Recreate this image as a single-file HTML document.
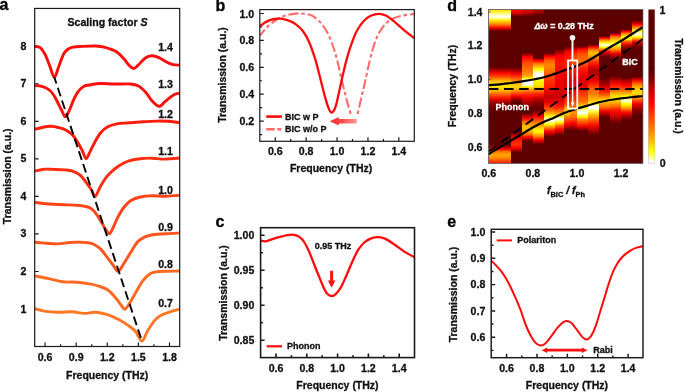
<!DOCTYPE html><html><head><meta charset="utf-8"><title>Figure</title><style>html,body{margin:0;padding:0;background:#fff}svg{display:block}text{font-family:'Liberation Sans', sans-serif}</style></head><body>
<svg width="685" height="392" viewBox="0 0 685 392">
<rect width="685" height="392" fill="#fff"/>
<g>
<path d="M45.07,346.50v-4.00M76.18,346.50v-4.00M107.29,346.50v-4.00M138.40,346.50v-4.00M169.51,346.50v-4.00M60.62,346.50v-2.30M91.74,346.50v-2.30M122.85,346.50v-2.30M153.95,346.50v-2.30M34.70,309.01h4.00M34.70,271.48h4.00M34.70,233.95h4.00M34.70,196.42h4.00M34.70,158.89h4.00M34.70,121.36h4.00M34.70,83.83h4.00M34.70,46.30h4.00" fill="none" stroke="#1a1a1a" stroke-width="1.20"/>
<clipPath id="ca"><rect x="34.70" y="8.45" width="145.00" height="338.05"/></clipPath>
<g clip-path="url(#ca)" fill="none" stroke-linejoin="round" stroke-linecap="round">
<path d="M34.7,308.7C36.3,309.1 40.2,310.5 44.1,311.1C48.0,311.7 53.5,312.2 58.2,312.3C62.9,312.4 67.9,311.6 72.2,311.8C76.5,312.0 80.1,313.3 84.0,313.4C87.9,313.5 91.8,312.1 95.7,312.3C99.6,312.5 103.5,313.4 107.4,314.6C111.3,315.9 115.6,318.0 119.1,319.8C122.6,321.6 125.8,323.7 128.5,325.6C131.2,327.6 133.4,328.9 135.6,331.5C137.8,334.1 139.9,341.1 141.9,341.1C143.9,341.1 145.2,334.9 147.3,331.5C149.4,328.1 152.0,323.6 154.3,320.9C156.7,318.2 158.7,316.7 161.4,315.1C164.2,313.6 167.7,312.6 170.8,311.6C173.9,310.6 178.5,309.6 180.0,309.2" stroke="#ff7624" stroke-width="2.9"/>
<path d="M34.7,275.9C37.1,276.4 44.1,277.7 48.8,278.7C53.5,279.7 58.1,281.2 62.8,281.8C67.5,282.4 72.2,281.8 76.9,282.2C81.6,282.6 87.2,283.4 91.0,284.1C94.8,284.8 97.5,285.7 100.0,286.5C102.5,287.3 104.3,288.0 106.0,288.9C107.7,289.8 108.7,290.4 110.0,291.6C111.3,292.8 112.8,294.6 114.0,296.0C115.2,297.4 116.3,298.6 117.5,300.2C118.7,301.8 120.1,303.8 121.3,305.3C122.5,306.8 123.5,309.3 124.7,309.2C126.0,309.1 127.0,307.2 128.8,304.5C130.6,301.8 133.3,296.7 135.6,292.8C137.9,288.9 140.2,284.2 142.6,281.1C144.9,278.0 147.3,275.6 149.7,274.0C152.0,272.4 153.6,272.2 156.7,271.7C159.8,271.2 164.5,271.3 168.4,271.2C172.3,271.1 178.1,271.0 180.0,271.0" stroke="#ff6a22" stroke-width="2.9"/>
<path d="M34.7,242.3C36.7,242.5 42.5,242.9 46.4,243.2C50.3,243.5 54.3,244.0 58.2,243.9C62.1,243.8 66.0,242.8 69.9,242.5C73.8,242.2 78.6,242.1 81.6,242.2C84.6,242.2 86.0,242.5 88.0,242.8C90.0,243.1 91.4,243.2 93.5,244.2C95.6,245.2 98.2,246.6 100.5,248.9C102.8,251.2 105.5,255.2 107.6,257.9C109.7,260.6 111.2,262.8 113.0,265.0C114.8,267.2 116.3,271.6 118.1,271.3C119.9,271.1 121.7,266.7 123.8,263.5C125.9,260.3 128.6,255.8 130.9,252.1C133.2,248.4 135.6,244.1 137.9,241.6C140.2,239.1 142.3,238.1 145.0,236.9C147.7,235.7 150.8,235.0 154.3,234.5C157.8,234.0 161.7,234.1 166.0,233.8C170.3,233.5 177.7,233.1 180.0,232.9" stroke="#ff551c" stroke-width="2.9"/>
<path d="M34.7,202.4C37.1,202.7 44.1,203.6 48.8,204.0C53.5,204.4 58.1,204.5 62.8,204.7C67.5,204.9 73.4,204.9 76.9,205.2C80.4,205.4 82.0,205.8 84.0,206.2C86.0,206.6 87.4,206.7 89.0,207.4C90.6,208.1 92.2,209.2 93.5,210.5C94.8,211.8 95.8,213.3 97.0,215.0C98.2,216.7 99.2,218.4 100.5,220.6C101.8,222.8 103.5,226.1 105.0,228.3C106.5,230.5 107.9,233.7 109.2,233.8C110.5,233.9 111.1,231.5 112.6,228.7C114.1,225.9 116.1,220.4 118.0,216.9C119.9,213.4 121.6,210.2 123.8,207.5C126.0,204.8 128.2,202.2 130.9,200.5C133.7,198.8 136.8,197.8 140.3,197.0C143.8,196.2 147.7,195.9 152.0,195.8C156.3,195.7 161.3,196.4 166.0,196.3C170.7,196.2 177.7,195.5 180.0,195.3" stroke="#ff4417" stroke-width="2.9"/>
<path d="M34.7,171.1C36.3,170.8 41.0,169.5 44.1,169.2C47.2,168.9 50.0,169.3 53.5,169.4C57.0,169.5 62.0,169.6 65.2,169.9C68.4,170.2 70.1,170.2 72.6,171.1C75.1,172.0 77.7,173.1 80.1,175.2C82.5,177.3 85.1,181.1 87.0,183.6C88.9,186.1 90.1,187.9 91.5,190.0C92.9,192.1 93.8,196.9 95.3,196.3C96.8,195.7 98.4,189.8 100.4,186.4C102.4,183.0 105.2,178.6 107.4,175.9C109.6,173.2 111.3,171.9 113.3,170.2C115.2,168.5 116.6,167.2 119.1,165.7C121.6,164.2 125.0,162.2 128.5,161.0C132.0,159.8 136.4,159.2 140.3,158.7C144.2,158.2 148.5,158.1 152.0,158.2C155.5,158.3 158.3,159.0 161.4,159.1C164.5,159.2 167.7,158.9 170.8,158.7C173.9,158.5 178.5,158.1 180.0,158.0" stroke="#ff2d10" stroke-width="2.9"/>
<path d="M34.7,129.3C36.3,128.9 41.4,127.5 44.1,127.0C46.8,126.5 48.8,126.2 51.1,126.3C53.5,126.4 55.9,126.9 58.2,127.5C60.6,128.1 62.9,128.6 65.2,129.8C67.5,131.0 70.2,132.7 72.2,134.6C74.2,136.5 75.6,138.9 77.2,141.5C78.8,144.1 80.5,147.2 82.0,150.0C83.5,152.8 84.8,158.2 86.1,158.5C87.4,158.8 88.6,154.3 90.1,151.6C91.5,148.9 93.0,145.3 94.8,142.2C96.5,139.1 98.5,135.3 100.6,132.8C102.7,130.3 104.7,128.5 107.4,127.0C110.1,125.5 113.3,124.6 116.8,123.9C120.3,123.2 124.2,123.2 128.5,122.8C132.8,122.4 137.9,122.1 142.6,121.8C147.3,121.5 152.4,121.2 156.7,121.1C161.0,121.0 164.5,121.0 168.4,121.3C172.3,121.6 178.1,122.5 180.0,122.8" stroke="#ff1c0c" stroke-width="2.9"/>
<path d="M34.7,85.6C35.9,85.7 39.4,85.7 41.7,86.4C44.1,87.1 46.9,88.3 48.8,89.6C50.7,90.9 51.6,92.1 53.0,94.0C54.4,95.9 55.5,98.2 57.0,101.0C58.5,103.8 60.3,107.9 61.7,110.5C63.1,113.1 64.1,116.7 65.3,116.8C66.5,116.9 67.7,113.8 69.1,110.9C70.5,108.0 72.3,102.5 73.9,99.2C75.5,95.9 76.8,93.4 78.5,91.2C80.2,89.0 81.9,87.4 84.0,86.3C86.1,85.2 88.3,85.2 91.0,84.7C93.7,84.2 96.5,83.6 100.4,83.5C104.3,83.4 109.4,83.9 114.5,84.0C119.6,84.1 126.9,83.7 130.9,84.0C134.9,84.3 136.0,84.7 138.5,86.1C141.0,87.5 143.3,89.6 145.7,92.2C148.0,94.8 150.3,99.2 152.6,101.6C154.9,104.0 157.2,106.4 159.3,106.4C161.4,106.4 163.1,103.2 165.0,101.6C166.9,100.0 169.1,98.2 170.8,96.9C172.6,95.6 174.0,94.6 175.5,94.0C177.0,93.4 179.2,93.4 180.0,93.3" stroke="#ff0f0a" stroke-width="2.9"/>
<path d="M34.7,46.4C35.6,46.6 38.5,46.2 40.3,47.6C42.0,49.0 43.6,51.5 45.2,54.6C46.8,57.7 48.4,62.6 49.9,66.4C51.4,70.2 52.8,77.4 54.4,77.2C56.0,77.0 57.6,69.2 59.2,65.2C60.8,61.2 62.3,56.2 63.9,53.5C65.5,50.8 67.0,49.9 68.6,48.8C70.1,47.7 71.0,47.5 73.2,47.1C75.4,46.7 77.8,46.6 81.6,46.4C85.3,46.2 91.8,45.8 95.7,46.0C99.6,46.2 101.6,46.4 105.1,47.4C108.6,48.4 113.6,50.1 116.8,52.1C120.0,54.1 122.3,57.1 124.3,59.3C126.3,61.5 127.4,63.7 129.0,65.2C130.6,66.7 132.2,68.5 133.7,68.5C135.2,68.5 136.3,66.9 138.2,65.2C140.1,63.5 142.7,59.8 145.0,58.2C147.3,56.6 149.7,55.9 152.0,55.8C154.3,55.7 156.7,56.7 159.0,57.7C161.3,58.7 163.7,60.5 166.0,61.7C168.3,62.9 170.8,64.1 173.1,64.7C175.4,65.3 178.8,65.1 180.0,65.2" stroke="#ff0d0d" stroke-width="2.9"/>
<path d="M54.2,77L141.9,341" stroke="#000" stroke-width="1.9" stroke-dasharray="9 4.4" stroke-dashoffset="2.1" stroke-linecap="butt"/>
</g>
<rect x="34.70" y="8.45" width="145.00" height="338.05" fill="none" stroke="#1a1a1a" stroke-width="1.20"/>
<text x="45.07" y="361.20" font-size="10.60" text-anchor="middle" fill="#111" stroke="#111" stroke-width="0.30" font-weight="bold" >0.6</text>
<text x="76.18" y="361.20" font-size="10.60" text-anchor="middle" fill="#111" stroke="#111" stroke-width="0.30" font-weight="bold" >0.9</text>
<text x="107.29" y="361.20" font-size="10.60" text-anchor="middle" fill="#111" stroke="#111" stroke-width="0.30" font-weight="bold" >1.2</text>
<text x="138.40" y="361.20" font-size="10.60" text-anchor="middle" fill="#111" stroke="#111" stroke-width="0.30" font-weight="bold" >1.5</text>
<text x="169.51" y="361.20" font-size="10.60" text-anchor="middle" fill="#111" stroke="#111" stroke-width="0.30" font-weight="bold" >1.8</text>
<text x="26.40" y="312.51" font-size="10.60" text-anchor="end" fill="#111" stroke="#111" stroke-width="0.30" font-weight="bold" >1</text>
<text x="26.40" y="274.98" font-size="10.60" text-anchor="end" fill="#111" stroke="#111" stroke-width="0.30" font-weight="bold" >2</text>
<text x="26.40" y="237.45" font-size="10.60" text-anchor="end" fill="#111" stroke="#111" stroke-width="0.30" font-weight="bold" >3</text>
<text x="26.40" y="199.92" font-size="10.60" text-anchor="end" fill="#111" stroke="#111" stroke-width="0.30" font-weight="bold" >4</text>
<text x="26.40" y="162.39" font-size="10.60" text-anchor="end" fill="#111" stroke="#111" stroke-width="0.30" font-weight="bold" >5</text>
<text x="26.40" y="124.86" font-size="10.60" text-anchor="end" fill="#111" stroke="#111" stroke-width="0.30" font-weight="bold" >6</text>
<text x="26.40" y="87.33" font-size="10.60" text-anchor="end" fill="#111" stroke="#111" stroke-width="0.30" font-weight="bold" >7</text>
<text x="26.40" y="49.80" font-size="10.60" text-anchor="end" fill="#111" stroke="#111" stroke-width="0.30" font-weight="bold" >8</text>
<text x="107.20" y="378.60" font-size="10.50" text-anchor="middle" fill="#111" stroke="#111" stroke-width="0.30" font-weight="bold" >Frequency (THz)</text>
<text transform="translate(10.80,176.30) rotate(-90)" font-size="10.50" text-anchor="middle" fill="#111" stroke="#111" stroke-width="0.30" font-weight="bold">Transmission (a.u.)</text>
<text x="107.50" y="25.50" font-size="10.60" text-anchor="middle" fill="#111" stroke="#111" stroke-width="0.30" font-weight="bold" >Scaling factor <tspan font-style="italic">S</tspan></text>
<text x="165.50" y="50.50" font-size="10.60" text-anchor="middle" fill="#111" stroke="#111" stroke-width="0.30" font-weight="bold" >1.4</text>
<text x="165.50" y="87.50" font-size="10.60" text-anchor="middle" fill="#111" stroke="#111" stroke-width="0.30" font-weight="bold" >1.3</text>
<text x="165.50" y="117.50" font-size="10.60" text-anchor="middle" fill="#111" stroke="#111" stroke-width="0.30" font-weight="bold" >1.2</text>
<text x="165.50" y="154.50" font-size="10.60" text-anchor="middle" fill="#111" stroke="#111" stroke-width="0.30" font-weight="bold" >1.1</text>
<text x="165.50" y="194.00" font-size="10.60" text-anchor="middle" fill="#111" stroke="#111" stroke-width="0.30" font-weight="bold" >1.0</text>
<text x="165.50" y="230.50" font-size="10.60" text-anchor="middle" fill="#111" stroke="#111" stroke-width="0.30" font-weight="bold" >0.9</text>
<text x="165.50" y="268.40" font-size="10.60" text-anchor="middle" fill="#111" stroke="#111" stroke-width="0.30" font-weight="bold" >0.8</text>
<text x="165.50" y="307.00" font-size="10.60" text-anchor="middle" fill="#111" stroke="#111" stroke-width="0.30" font-weight="bold" >0.7</text>
<text x="-0.60" y="10.10" font-size="16.00" text-anchor="start" fill="#000" stroke="#000" stroke-width="0.30" font-weight="bold" >a</text>
</g>
<g>
<path d="M275.25,141.30v-4.00M306.15,141.30v-4.00M337.05,141.30v-4.00M367.95,141.30v-4.00M398.85,141.30v-4.00M290.70,141.30v-2.30M321.60,141.30v-2.30M352.50,141.30v-2.30M383.40,141.30v-2.30M259.80,121.10h4.00M259.80,94.20h4.00M259.80,67.30h4.00M259.80,40.40h4.00M259.80,13.50h4.00M259.80,134.55h2.30M259.80,107.65h2.30M259.80,80.75h2.30M259.80,53.85h2.30M259.80,26.95h2.30" fill="none" stroke="#1a1a1a" stroke-width="1.20"/>
<clipPath id="cb"><rect x="259.80" y="9.60" width="154.50" height="131.70"/></clipPath>
<g clip-path="url(#cb)" fill="none" stroke-linejoin="round">
<path d="M259.8,35.8C261.0,34.4 264.2,29.9 267.0,27.2C269.8,24.5 273.5,21.5 276.7,19.5C279.9,17.5 282.7,16.4 286.3,15.4C289.9,14.4 294.4,13.5 298.4,13.4C302.4,13.3 307.0,13.9 310.4,15.1C313.8,16.3 316.2,18.2 318.8,20.7C321.4,23.2 323.9,26.5 326.1,30.3C328.3,34.1 330.3,38.7 332.1,43.5C333.9,48.3 335.3,53.2 336.9,59.2C338.5,65.2 340.2,73.3 341.7,79.7C343.2,86.1 344.6,91.9 346.1,97.7C347.6,103.5 350.1,111.8 350.9,114.6" stroke="#ff6b6b" stroke-width="2.1" stroke-dasharray="10 2.8 3.6 2.8" stroke-dashoffset="2"/>
<path d="M357.5,114.6C358.1,111.8 360.1,103.1 361.3,97.7C362.6,92.3 363.6,88.3 365.0,82.1C366.4,75.9 368.2,66.8 369.8,60.4C371.4,54.0 372.9,48.1 374.5,43.5C376.1,38.9 377.4,35.9 379.2,32.7C381.0,29.5 382.9,26.6 385.1,24.3C387.3,22.0 389.5,20.4 392.3,19.0C395.1,17.6 398.2,16.7 401.9,15.8C405.6,15.0 412.2,14.2 414.3,13.9" stroke="#ff6b6b" stroke-width="2.1" stroke-dasharray="10 2.8 3.6 2.8" stroke-dashoffset="12"/>
<path d="M259.8,26.2C261.0,25.4 264.6,22.6 267.0,21.4C269.4,20.2 271.9,19.4 274.3,19.0C276.7,18.6 279.1,18.4 281.5,18.7C283.9,19.0 286.3,19.8 288.7,20.7C291.1,21.6 293.5,22.5 295.9,24.3C298.3,26.1 301.0,28.5 303.2,31.5C305.4,34.5 307.2,37.7 309.2,42.3C311.2,46.9 313.4,53.4 315.2,59.2C317.0,65.0 318.4,71.1 320.0,77.3C321.6,83.5 323.5,91.5 324.9,96.5C326.3,101.5 327.2,104.8 328.3,107.5C329.4,110.2 330.4,112.6 331.6,112.6C332.8,112.6 334.3,110.0 335.3,107.5C336.3,105.0 336.6,103.1 337.8,97.7C339.1,92.3 341.2,81.9 342.8,74.9C344.4,67.9 346.1,61.2 347.7,55.6C349.3,50.0 350.9,45.3 352.5,41.1C354.1,36.9 355.3,33.7 357.2,30.3C359.1,26.9 361.7,23.1 364.0,20.7C366.3,18.3 368.3,16.9 370.8,15.8C373.3,14.7 376.4,13.9 379.0,13.9C381.6,13.9 383.7,14.5 386.3,15.8C388.9,17.1 391.7,19.5 394.7,21.9C397.7,24.3 401.0,27.6 404.3,30.3C407.6,33.0 412.6,36.9 414.3,38.2" stroke="#ff0a0a" stroke-width="2.3"/>
</g>
<defs><linearGradient id="gb" x1="0" x2="1" y1="0" y2="0"><stop offset="0" stop-color="#ff2a2a"/><stop offset="0.45" stop-color="#ff4a4a"/><stop offset="1" stop-color="#ff9a9a"/></linearGradient></defs>
<path d="M329.8,121.3L338.8,117.1V119H356.8V123.6H338.8V125.5Z" fill="url(#gb)"/>
<rect x="259.80" y="9.60" width="154.50" height="131.70" fill="none" stroke="#1a1a1a" stroke-width="1.20"/>
<text x="275.25" y="155.20" font-size="10.60" text-anchor="middle" fill="#111" stroke="#111" stroke-width="0.30" font-weight="bold" >0.6</text>
<text x="306.15" y="155.20" font-size="10.60" text-anchor="middle" fill="#111" stroke="#111" stroke-width="0.30" font-weight="bold" >0.8</text>
<text x="337.05" y="155.20" font-size="10.60" text-anchor="middle" fill="#111" stroke="#111" stroke-width="0.30" font-weight="bold" >1.0</text>
<text x="367.95" y="155.20" font-size="10.60" text-anchor="middle" fill="#111" stroke="#111" stroke-width="0.30" font-weight="bold" >1.2</text>
<text x="398.85" y="155.20" font-size="10.60" text-anchor="middle" fill="#111" stroke="#111" stroke-width="0.30" font-weight="bold" >1.4</text>
<text x="254.20" y="125.10" font-size="10.60" text-anchor="end" fill="#111" stroke="#111" stroke-width="0.30" font-weight="bold" >0.2</text>
<text x="254.20" y="98.20" font-size="10.60" text-anchor="end" fill="#111" stroke="#111" stroke-width="0.30" font-weight="bold" >0.4</text>
<text x="254.20" y="71.30" font-size="10.60" text-anchor="end" fill="#111" stroke="#111" stroke-width="0.30" font-weight="bold" >0.6</text>
<text x="254.20" y="44.40" font-size="10.60" text-anchor="end" fill="#111" stroke="#111" stroke-width="0.30" font-weight="bold" >0.8</text>
<text x="254.20" y="17.50" font-size="10.60" text-anchor="end" fill="#111" stroke="#111" stroke-width="0.30" font-weight="bold" >1.0</text>
<text x="331.10" y="171.70" font-size="10.50" text-anchor="middle" fill="#111" stroke="#111" stroke-width="0.30" font-weight="bold" >Frequency (THz)</text>
<text transform="translate(226.20,75.00) rotate(-90)" font-size="10.50" text-anchor="middle" fill="#111" stroke="#111" stroke-width="0.30" font-weight="bold">Transmission (a.u.)</text>
<path d="M266.20,116.60H281.90" stroke="#ff0a0a" stroke-width="2.60" fill="none" />
<path d="M266.20,129.30H281.90" stroke="#ff6b6b" stroke-width="2.60" fill="none" stroke-dasharray="8.6 2.6 4 2.6"/>
<text x="285.10" y="119.50" font-size="9.00" text-anchor="start" fill="#111" stroke="#111" stroke-width="0.30" font-weight="bold" >BIC w P</text>
<text x="285.10" y="132.30" font-size="9.00" text-anchor="start" fill="#111" stroke="#111" stroke-width="0.30" font-weight="bold" >BIC w/o P</text>
<text x="215.60" y="10.90" font-size="16.00" text-anchor="start" fill="#000" stroke="#000" stroke-width="0.30" font-weight="bold" >b</text>
</g>
<g>
<path d="M276.00,357.60v-4.00M306.80,357.60v-4.00M337.60,357.60v-4.00M368.40,357.60v-4.00M399.20,357.60v-4.00M291.40,357.60v-2.30M322.20,357.60v-2.30M353.00,357.60v-2.30M383.80,357.60v-2.30M260.60,340.31h4.00M260.60,305.27h4.00M260.60,270.24h4.00M260.60,235.20h4.00M260.60,322.79h2.30M260.60,287.75h2.30M260.60,252.72h2.30" fill="none" stroke="#1a1a1a" stroke-width="1.60"/>
<clipPath id="cc"><rect x="260.60" y="227.70" width="153.90" height="129.90"/></clipPath>
<g clip-path="url(#cc)" fill="none" stroke-linejoin="round">
<path d="M260.6,240.8C261.5,240.9 263.9,241.6 265.8,241.3C267.7,241.1 269.7,240.0 271.9,239.3C274.1,238.6 276.5,237.9 279.1,237.2C281.7,236.5 284.9,235.6 287.3,235.2C289.8,234.8 291.8,234.5 293.8,234.8C295.8,235.1 297.6,235.6 299.4,236.9C301.2,238.2 302.9,240.0 304.5,242.5C306.1,245.0 307.7,248.5 309.3,252.1C310.9,255.7 312.5,260.2 314.1,264.2C315.7,268.2 317.3,272.4 318.9,276.2C320.4,280.0 322.0,284.1 323.4,287.0C324.8,289.9 325.9,292.3 327.3,293.8C328.7,295.3 330.2,296.0 331.6,296.0C333.1,296.0 334.4,295.3 336.0,293.8C337.6,292.3 339.4,289.9 341.1,287.0C342.8,284.1 344.2,280.4 346.1,276.2C348.0,272.0 350.3,266.1 352.3,261.7C354.3,257.3 356.3,252.9 358.3,249.7C360.3,246.5 362.1,244.4 364.3,242.5C366.5,240.6 368.9,239.3 371.3,238.4C373.7,237.5 376.1,237.1 378.5,237.2C380.9,237.3 382.8,237.7 385.5,238.9C388.2,240.2 391.6,242.6 394.7,244.7C397.8,246.8 401.0,249.5 404.3,251.6C407.6,253.7 412.8,256.3 414.5,257.2" stroke="#ff0a0a" stroke-width="2.3"/>
</g>
<path d="M330.1,270.8H333.1V280.6H335.4L331.6,287.8L327.8,280.6H330.1Z" fill="#ff1515"/>
<rect x="260.60" y="227.70" width="153.90" height="129.90" fill="none" stroke="#1a1a1a" stroke-width="1.60"/>
<text x="276.00" y="372.00" font-size="10.60" text-anchor="middle" fill="#111" stroke="#111" stroke-width="0.30" font-weight="bold" >0.6</text>
<text x="306.80" y="372.00" font-size="10.60" text-anchor="middle" fill="#111" stroke="#111" stroke-width="0.30" font-weight="bold" >0.8</text>
<text x="337.60" y="372.00" font-size="10.60" text-anchor="middle" fill="#111" stroke="#111" stroke-width="0.30" font-weight="bold" >1.0</text>
<text x="368.40" y="372.00" font-size="10.60" text-anchor="middle" fill="#111" stroke="#111" stroke-width="0.30" font-weight="bold" >1.2</text>
<text x="399.20" y="372.00" font-size="10.60" text-anchor="middle" fill="#111" stroke="#111" stroke-width="0.30" font-weight="bold" >1.4</text>
<text x="254.30" y="343.70" font-size="10.60" text-anchor="end" fill="#111" stroke="#111" stroke-width="0.30" font-weight="bold" >0.85</text>
<text x="254.30" y="308.67" font-size="10.60" text-anchor="end" fill="#111" stroke="#111" stroke-width="0.30" font-weight="bold" >0.90</text>
<text x="254.30" y="273.63" font-size="10.60" text-anchor="end" fill="#111" stroke="#111" stroke-width="0.30" font-weight="bold" >0.95</text>
<text x="254.30" y="238.60" font-size="10.60" text-anchor="end" fill="#111" stroke="#111" stroke-width="0.30" font-weight="bold" >1.00</text>
<text x="337.50" y="388.70" font-size="10.50" text-anchor="middle" fill="#111" stroke="#111" stroke-width="0.30" font-weight="bold" >Frequency (THz)</text>
<text transform="translate(226.50,293.00) rotate(-90)" font-size="10.50" text-anchor="middle" fill="#111" stroke="#111" stroke-width="0.30" font-weight="bold">Transmission (a.u.)</text>
<path d="M266.70,346.30H282.00" stroke="#ff0a0a" stroke-width="2.20" fill="none" />
<text x="287.00" y="348.90" font-size="9.00" text-anchor="start" fill="#111" stroke="#111" stroke-width="0.30" font-weight="bold" >Phonon</text>
<text x="333.00" y="248.60" font-size="9.00" text-anchor="middle" fill="#111" stroke="#111" stroke-width="0.30" font-weight="bold" >0.95 THz</text>
<text x="215.50" y="226.90" font-size="16.00" text-anchor="start" fill="#000" stroke="#000" stroke-width="0.30" font-weight="bold" >c</text>
</g>
<g>
<rect x="488.60" y="9.60" width="154.30" height="153.70" fill="#5c0000"/>
<defs>
<linearGradient id="h0" gradientUnits="userSpaceOnUse" x1="0" x2="0" y1="9.8" y2="163.2">
<stop offset="0.0013" stop-color="#ffdd00"/>
<stop offset="0.0209" stop-color="#ffff60"/>
<stop offset="0.0437" stop-color="#ffffff"/>
<stop offset="0.0567" stop-color="#ffff80"/>
<stop offset="0.0691" stop-color="#ffe800"/>
<stop offset="0.0952" stop-color="#ff8000"/>
<stop offset="0.1180" stop-color="#ff0000"/>
<stop offset="0.1284" stop-color="#a00000"/>
<stop offset="0.1382" stop-color="#5c0000"/>
<stop offset="0.3709" stop-color="#5c0000"/>
<stop offset="0.3924" stop-color="#a00000"/>
<stop offset="0.4107" stop-color="#ff0000"/>
<stop offset="0.4381" stop-color="#ff5000"/>
<stop offset="0.4609" stop-color="#ffb000"/>
<stop offset="0.4837" stop-color="#ffe000"/>
<stop offset="0.5007" stop-color="#ffe800"/>
<stop offset="0.5241" stop-color="#ffc000"/>
<stop offset="0.5469" stop-color="#ff7000"/>
<stop offset="0.5750" stop-color="#ff1000"/>
<stop offset="0.6037" stop-color="#a00000"/>
<stop offset="0.6323" stop-color="#700000"/>
<stop offset="0.6532" stop-color="#5c0000"/>
<stop offset="0.8774" stop-color="#5c0000"/>
<stop offset="0.8944" stop-color="#a00000"/>
<stop offset="0.9087" stop-color="#ff0000"/>
<stop offset="0.9231" stop-color="#ff7000"/>
<stop offset="0.9465" stop-color="#ffa800"/>
<stop offset="0.9687" stop-color="#ff8000"/>
<stop offset="0.9922" stop-color="#ff3000"/>
<stop offset="1.0000" stop-color="#ff2000"/>
</linearGradient>
<linearGradient id="h1" gradientUnits="userSpaceOnUse" x1="0" x2="0" y1="9.8" y2="163.2">
<stop offset="0.0013" stop-color="#ff0000"/>
<stop offset="0.0209" stop-color="#e00000"/>
<stop offset="0.0339" stop-color="#900000"/>
<stop offset="0.0469" stop-color="#5c0000"/>
<stop offset="0.3729" stop-color="#5c0000"/>
<stop offset="0.4022" stop-color="#c00000"/>
<stop offset="0.4218" stop-color="#ff1000"/>
<stop offset="0.4381" stop-color="#ff4000"/>
<stop offset="0.4609" stop-color="#ff8000"/>
<stop offset="0.4837" stop-color="#ffc000"/>
<stop offset="0.5052" stop-color="#ffd800"/>
<stop offset="0.5241" stop-color="#ffa000"/>
<stop offset="0.5469" stop-color="#ff4000"/>
<stop offset="0.5619" stop-color="#ff0000"/>
<stop offset="0.5750" stop-color="#c00000"/>
<stop offset="0.5880" stop-color="#800000"/>
<stop offset="0.6043" stop-color="#5c0000"/>
<stop offset="0.7927" stop-color="#5c0000"/>
<stop offset="0.8214" stop-color="#c00000"/>
<stop offset="0.8422" stop-color="#ff1000"/>
<stop offset="0.8605" stop-color="#ff2000"/>
<stop offset="0.8774" stop-color="#ff3000"/>
<stop offset="0.9009" stop-color="#ff0000"/>
<stop offset="0.9172" stop-color="#a00000"/>
<stop offset="0.9302" stop-color="#5c0000"/>
</linearGradient>
<linearGradient id="h2" gradientUnits="userSpaceOnUse" x1="0" x2="0" y1="9.8" y2="163.2">
<stop offset="0.0013" stop-color="#e00000"/>
<stop offset="0.0209" stop-color="#c00000"/>
<stop offset="0.0339" stop-color="#800000"/>
<stop offset="0.0437" stop-color="#5c0000"/>
<stop offset="0.2790" stop-color="#5c0000"/>
<stop offset="0.2947" stop-color="#b00000"/>
<stop offset="0.3077" stop-color="#ff0000"/>
<stop offset="0.3481" stop-color="#ff5000"/>
<stop offset="0.3990" stop-color="#ff7800"/>
<stop offset="0.4250" stop-color="#ff9800"/>
<stop offset="0.4381" stop-color="#ffc000"/>
<stop offset="0.4478" stop-color="#ffff00"/>
<stop offset="0.4576" stop-color="#ffffff"/>
<stop offset="0.4902" stop-color="#ffffff"/>
<stop offset="0.5007" stop-color="#ffff00"/>
<stop offset="0.5130" stop-color="#ffc000"/>
<stop offset="0.5241" stop-color="#ff9000"/>
<stop offset="0.5469" stop-color="#ff3000"/>
<stop offset="0.5750" stop-color="#ee0000"/>
<stop offset="0.6010" stop-color="#b00000"/>
<stop offset="0.6271" stop-color="#800000"/>
<stop offset="0.6532" stop-color="#5c0000"/>
<stop offset="0.6728" stop-color="#5c0000"/>
<stop offset="0.6923" stop-color="#b00000"/>
<stop offset="0.7073" stop-color="#ff0000"/>
<stop offset="0.7360" stop-color="#ff8000"/>
<stop offset="0.7640" stop-color="#ffc000"/>
<stop offset="0.7927" stop-color="#ffb000"/>
<stop offset="0.8096" stop-color="#ff8000"/>
<stop offset="0.8201" stop-color="#ff4000"/>
<stop offset="0.8318" stop-color="#ff0000"/>
<stop offset="0.8455" stop-color="#a00000"/>
<stop offset="0.8553" stop-color="#5c0000"/>
</linearGradient>
<linearGradient id="h3" gradientUnits="userSpaceOnUse" x1="0" x2="0" y1="9.8" y2="163.2">
<stop offset="0.0013" stop-color="#b00000"/>
<stop offset="0.0209" stop-color="#900000"/>
<stop offset="0.0372" stop-color="#5c0000"/>
<stop offset="0.3110" stop-color="#5c0000"/>
<stop offset="0.3207" stop-color="#a00000"/>
<stop offset="0.3305" stop-color="#ff0000"/>
<stop offset="0.3533" stop-color="#ff8000"/>
<stop offset="0.3879" stop-color="#ffff00"/>
<stop offset="0.4166" stop-color="#ffffff"/>
<stop offset="0.4381" stop-color="#ffffff"/>
<stop offset="0.4511" stop-color="#ffff40"/>
<stop offset="0.4707" stop-color="#fff000"/>
<stop offset="0.4967" stop-color="#ffe000"/>
<stop offset="0.5130" stop-color="#ffb000"/>
<stop offset="0.5293" stop-color="#ff7000"/>
<stop offset="0.5489" stop-color="#ff2000"/>
<stop offset="0.5750" stop-color="#d00000"/>
<stop offset="0.6010" stop-color="#900000"/>
<stop offset="0.6271" stop-color="#700000"/>
<stop offset="0.6499" stop-color="#600000"/>
<stop offset="0.6728" stop-color="#a00000"/>
<stop offset="0.6956" stop-color="#ff0000"/>
<stop offset="0.7249" stop-color="#ff6000"/>
<stop offset="0.7529" stop-color="#ffa000"/>
<stop offset="0.7816" stop-color="#fff000"/>
<stop offset="0.7986" stop-color="#fff000"/>
<stop offset="0.8129" stop-color="#ffb000"/>
<stop offset="0.8259" stop-color="#ff8000"/>
<stop offset="0.8488" stop-color="#ff0000"/>
<stop offset="0.8657" stop-color="#a00000"/>
<stop offset="0.8774" stop-color="#5c0000"/>
</linearGradient>
<linearGradient id="h4" gradientUnits="userSpaceOnUse" x1="0" x2="0" y1="9.8" y2="163.2">
<stop offset="0.2816" stop-color="#5c0000"/>
<stop offset="0.2914" stop-color="#a00000"/>
<stop offset="0.3031" stop-color="#ff0000"/>
<stop offset="0.3318" stop-color="#ff6000"/>
<stop offset="0.3598" stop-color="#ff8800"/>
<stop offset="0.4003" stop-color="#ff7000"/>
<stop offset="0.4283" stop-color="#ff5000"/>
<stop offset="0.4628" stop-color="#ff3000"/>
<stop offset="0.5033" stop-color="#ff1800"/>
<stop offset="0.5313" stop-color="#e80000"/>
<stop offset="0.5652" stop-color="#c80000"/>
<stop offset="0.5997" stop-color="#e00000"/>
<stop offset="0.6336" stop-color="#ff3000"/>
<stop offset="0.6623" stop-color="#ff8000"/>
<stop offset="0.6884" stop-color="#ffe000"/>
<stop offset="0.7086" stop-color="#ffff80"/>
<stop offset="0.7229" stop-color="#ffffff"/>
<stop offset="0.7458" stop-color="#ffff00"/>
<stop offset="0.7686" stop-color="#ff8000"/>
<stop offset="0.7914" stop-color="#ff0000"/>
<stop offset="0.8142" stop-color="#a00000"/>
<stop offset="0.8292" stop-color="#5c0000"/>
</linearGradient>
<linearGradient id="h5" gradientUnits="userSpaceOnUse" x1="0" x2="0" y1="9.8" y2="163.2">
<stop offset="0.2575" stop-color="#5c0000"/>
<stop offset="0.2751" stop-color="#a00000"/>
<stop offset="0.3031" stop-color="#ff0000"/>
<stop offset="0.3533" stop-color="#ff1000"/>
<stop offset="0.3990" stop-color="#ff0000"/>
<stop offset="0.4576" stop-color="#f00000"/>
<stop offset="0.5033" stop-color="#e80000"/>
<stop offset="0.5313" stop-color="#d80000"/>
<stop offset="0.5652" stop-color="#c80000"/>
<stop offset="0.5997" stop-color="#e80000"/>
<stop offset="0.6336" stop-color="#ff2000"/>
<stop offset="0.6623" stop-color="#ff7000"/>
<stop offset="0.6858" stop-color="#ffc000"/>
<stop offset="0.6988" stop-color="#ffff40"/>
<stop offset="0.7119" stop-color="#ffffff"/>
<stop offset="0.7340" stop-color="#ffff00"/>
<stop offset="0.7510" stop-color="#ff8000"/>
<stop offset="0.7797" stop-color="#ff0000"/>
<stop offset="0.8031" stop-color="#a00000"/>
<stop offset="0.8201" stop-color="#5c0000"/>
</linearGradient>
<linearGradient id="h6" gradientUnits="userSpaceOnUse" x1="0" x2="0" y1="9.8" y2="163.2">
<stop offset="0.2405" stop-color="#5c0000"/>
<stop offset="0.2555" stop-color="#a00000"/>
<stop offset="0.2751" stop-color="#ff0000"/>
<stop offset="0.3142" stop-color="#ff1800"/>
<stop offset="0.3533" stop-color="#ff2800"/>
<stop offset="0.3924" stop-color="#ff1000"/>
<stop offset="0.4576" stop-color="#e00000"/>
<stop offset="0.5228" stop-color="#e80000"/>
<stop offset="0.5880" stop-color="#ff2000"/>
<stop offset="0.6206" stop-color="#ff5000"/>
<stop offset="0.6402" stop-color="#ffb000"/>
<stop offset="0.6597" stop-color="#ffe000"/>
<stop offset="0.6760" stop-color="#ffd000"/>
<stop offset="0.6988" stop-color="#ff8000"/>
<stop offset="0.7229" stop-color="#ff4000"/>
<stop offset="0.7458" stop-color="#ff0000"/>
<stop offset="0.7686" stop-color="#a00000"/>
<stop offset="0.7855" stop-color="#5c0000"/>
</linearGradient>
<linearGradient id="h7" gradientUnits="userSpaceOnUse" x1="0" x2="0" y1="9.8" y2="163.2">
<stop offset="0.2360" stop-color="#5c0000"/>
<stop offset="0.2523" stop-color="#a00000"/>
<stop offset="0.2686" stop-color="#ff0000"/>
<stop offset="0.3012" stop-color="#ff4000"/>
<stop offset="0.3403" stop-color="#ff5000"/>
<stop offset="0.3794" stop-color="#ff2000"/>
<stop offset="0.4576" stop-color="#e00000"/>
<stop offset="0.5228" stop-color="#f00000"/>
<stop offset="0.5880" stop-color="#ff3000"/>
<stop offset="0.6206" stop-color="#ff6000"/>
<stop offset="0.6467" stop-color="#ff8000"/>
<stop offset="0.6714" stop-color="#ff9000"/>
<stop offset="0.6988" stop-color="#ff7000"/>
<stop offset="0.7171" stop-color="#ff4000"/>
<stop offset="0.7399" stop-color="#ff0000"/>
<stop offset="0.7686" stop-color="#a00000"/>
<stop offset="0.7855" stop-color="#5c0000"/>
</linearGradient>
<linearGradient id="h8" gradientUnits="userSpaceOnUse" x1="0" x2="0" y1="9.8" y2="163.2">
<stop offset="0.2347" stop-color="#5c0000"/>
<stop offset="0.2458" stop-color="#a00000"/>
<stop offset="0.2549" stop-color="#ff0000"/>
<stop offset="0.2803" stop-color="#ff4000"/>
<stop offset="0.3031" stop-color="#ff6000"/>
<stop offset="0.3377" stop-color="#ff7000"/>
<stop offset="0.3468" stop-color="#ff6000"/>
<stop offset="0.3716" stop-color="#ff3000"/>
<stop offset="0.3990" stop-color="#ff1000"/>
<stop offset="0.4283" stop-color="#ee0000"/>
<stop offset="0.4628" stop-color="#e00000"/>
<stop offset="0.5033" stop-color="#f00000"/>
<stop offset="0.5359" stop-color="#ff3000"/>
<stop offset="0.5684" stop-color="#ff5000"/>
<stop offset="0.5997" stop-color="#ff7000"/>
<stop offset="0.6226" stop-color="#ffc000"/>
<stop offset="0.6402" stop-color="#ffff00"/>
<stop offset="0.6623" stop-color="#ffffff"/>
<stop offset="0.6728" stop-color="#ffffff"/>
<stop offset="0.6956" stop-color="#ffff00"/>
<stop offset="0.7171" stop-color="#ff8000"/>
<stop offset="0.7399" stop-color="#ff4000"/>
<stop offset="0.7575" stop-color="#ff0000"/>
<stop offset="0.7744" stop-color="#a00000"/>
<stop offset="0.7914" stop-color="#5c0000"/>
</linearGradient>
<linearGradient id="h9" gradientUnits="userSpaceOnUse" x1="0" x2="0" y1="9.8" y2="163.2">
<stop offset="0.2262" stop-color="#5c0000"/>
<stop offset="0.2327" stop-color="#a00000"/>
<stop offset="0.2405" stop-color="#ff0000"/>
<stop offset="0.2575" stop-color="#ff6000"/>
<stop offset="0.2699" stop-color="#ffa000"/>
<stop offset="0.2862" stop-color="#ffc000"/>
<stop offset="0.3012" stop-color="#ffa000"/>
<stop offset="0.3142" stop-color="#ff8000"/>
<stop offset="0.3272" stop-color="#ff5000"/>
<stop offset="0.3488" stop-color="#ff2000"/>
<stop offset="0.3716" stop-color="#e00000"/>
<stop offset="0.3944" stop-color="#b80000"/>
<stop offset="0.4250" stop-color="#c00000"/>
<stop offset="0.4576" stop-color="#e80000"/>
<stop offset="0.4857" stop-color="#ff2000"/>
<stop offset="0.5143" stop-color="#ff6000"/>
<stop offset="0.5508" stop-color="#ff8000"/>
<stop offset="0.5795" stop-color="#ffb000"/>
<stop offset="0.5997" stop-color="#ffd000"/>
<stop offset="0.6141" stop-color="#ffff40"/>
<stop offset="0.6304" stop-color="#ffffff"/>
<stop offset="0.6434" stop-color="#ffffff"/>
<stop offset="0.6610" stop-color="#ffff40"/>
<stop offset="0.6838" stop-color="#ffc000"/>
<stop offset="0.7066" stop-color="#ff8000"/>
<stop offset="0.7353" stop-color="#ff3000"/>
<stop offset="0.7640" stop-color="#e80000"/>
<stop offset="0.7920" stop-color="#a00000"/>
<stop offset="0.8162" stop-color="#5c0000"/>
</linearGradient>
<linearGradient id="h10" gradientUnits="userSpaceOnUse" x1="0" x2="0" y1="9.8" y2="163.2">
<stop offset="0.1721" stop-color="#5c0000"/>
<stop offset="0.1773" stop-color="#a00000"/>
<stop offset="0.1838" stop-color="#ff0000"/>
<stop offset="0.1988" stop-color="#ff9000"/>
<stop offset="0.2151" stop-color="#ffff00"/>
<stop offset="0.2295" stop-color="#ffffff"/>
<stop offset="0.2438" stop-color="#ffff00"/>
<stop offset="0.2581" stop-color="#ff8000"/>
<stop offset="0.2725" stop-color="#ff0000"/>
<stop offset="0.2868" stop-color="#b00000"/>
<stop offset="0.3038" stop-color="#700000"/>
<stop offset="0.3142" stop-color="#5c0000"/>
<stop offset="0.4316" stop-color="#5c0000"/>
<stop offset="0.4537" stop-color="#700000"/>
<stop offset="0.4824" stop-color="#a00000"/>
<stop offset="0.5052" stop-color="#d80000"/>
<stop offset="0.5280" stop-color="#ff1000"/>
<stop offset="0.5508" stop-color="#ff5000"/>
<stop offset="0.5737" stop-color="#ffa000"/>
<stop offset="0.5913" stop-color="#ffe000"/>
<stop offset="0.6010" stop-color="#ffc000"/>
<stop offset="0.6141" stop-color="#ffa000"/>
<stop offset="0.6375" stop-color="#ff6000"/>
<stop offset="0.6610" stop-color="#f00000"/>
<stop offset="0.6780" stop-color="#b00000"/>
<stop offset="0.6949" stop-color="#700000"/>
<stop offset="0.7053" stop-color="#5c0000"/>
</linearGradient>
<linearGradient id="h11" gradientUnits="userSpaceOnUse" x1="0" x2="0" y1="9.8" y2="163.2">
<stop offset="0.1493" stop-color="#5c0000"/>
<stop offset="0.1565" stop-color="#a00000"/>
<stop offset="0.1636" stop-color="#ff0000"/>
<stop offset="0.1773" stop-color="#ff8000"/>
<stop offset="0.1949" stop-color="#ffc000"/>
<stop offset="0.2119" stop-color="#fff000"/>
<stop offset="0.2210" stop-color="#ffff80"/>
<stop offset="0.2412" stop-color="#ffd000"/>
<stop offset="0.2581" stop-color="#ff9000"/>
<stop offset="0.2725" stop-color="#ff4000"/>
<stop offset="0.2868" stop-color="#e80000"/>
<stop offset="0.3038" stop-color="#a00000"/>
<stop offset="0.3207" stop-color="#700000"/>
<stop offset="0.3338" stop-color="#5c0000"/>
<stop offset="0.4316" stop-color="#5c0000"/>
<stop offset="0.4478" stop-color="#900000"/>
<stop offset="0.4654" stop-color="#d00000"/>
<stop offset="0.4883" stop-color="#ff1000"/>
<stop offset="0.5163" stop-color="#ff5000"/>
<stop offset="0.5398" stop-color="#ffa000"/>
<stop offset="0.5619" stop-color="#ffe000"/>
<stop offset="0.5815" stop-color="#ffe000"/>
<stop offset="0.6037" stop-color="#ffb000"/>
<stop offset="0.6271" stop-color="#ff7000"/>
<stop offset="0.6493" stop-color="#ff2000"/>
<stop offset="0.6728" stop-color="#f00000"/>
<stop offset="0.6949" stop-color="#d00000"/>
<stop offset="0.7184" stop-color="#900000"/>
<stop offset="0.7405" stop-color="#680000"/>
<stop offset="0.7510" stop-color="#5c0000"/>
</linearGradient>
<linearGradient id="h12" gradientUnits="userSpaceOnUse" x1="0" x2="0" y1="9.8" y2="163.2">
<stop offset="0.1265" stop-color="#5c0000"/>
<stop offset="0.1336" stop-color="#a00000"/>
<stop offset="0.1408" stop-color="#ff0000"/>
<stop offset="0.1551" stop-color="#ff8000"/>
<stop offset="0.1773" stop-color="#ffff00"/>
<stop offset="0.1949" stop-color="#ffe000"/>
<stop offset="0.2008" stop-color="#ff9000"/>
<stop offset="0.2151" stop-color="#ff3000"/>
<stop offset="0.2295" stop-color="#d00000"/>
<stop offset="0.2438" stop-color="#900000"/>
<stop offset="0.2581" stop-color="#680000"/>
<stop offset="0.2686" stop-color="#5c0000"/>
<stop offset="0.4420" stop-color="#5c0000"/>
<stop offset="0.4596" stop-color="#a00000"/>
<stop offset="0.4772" stop-color="#e00000"/>
<stop offset="0.4993" stop-color="#ff1000"/>
<stop offset="0.5228" stop-color="#ff6000"/>
<stop offset="0.5398" stop-color="#ffa000"/>
<stop offset="0.5619" stop-color="#fff000"/>
<stop offset="0.5815" stop-color="#ffff80"/>
<stop offset="0.5919" stop-color="#ffffff"/>
<stop offset="0.6043" stop-color="#ffff60"/>
<stop offset="0.6141" stop-color="#ffff00"/>
<stop offset="0.6323" stop-color="#ffc000"/>
<stop offset="0.6493" stop-color="#ff7000"/>
<stop offset="0.6662" stop-color="#ff1000"/>
<stop offset="0.6838" stop-color="#d00000"/>
<stop offset="0.7008" stop-color="#900000"/>
<stop offset="0.7184" stop-color="#680000"/>
<stop offset="0.7314" stop-color="#5c0000"/>
</linearGradient>
<linearGradient id="h13" gradientUnits="userSpaceOnUse" x1="0" x2="0" y1="9.8" y2="163.2">
<stop offset="0.0691" stop-color="#5c0000"/>
<stop offset="0.0808" stop-color="#a00000"/>
<stop offset="0.0952" stop-color="#ff0000"/>
<stop offset="0.1147" stop-color="#ff8000"/>
<stop offset="0.1382" stop-color="#ffff00"/>
<stop offset="0.1578" stop-color="#ffffff"/>
<stop offset="0.1773" stop-color="#ffff00"/>
<stop offset="0.1923" stop-color="#ff8000"/>
<stop offset="0.2008" stop-color="#ff3000"/>
<stop offset="0.2151" stop-color="#d00000"/>
<stop offset="0.2295" stop-color="#900000"/>
<stop offset="0.2438" stop-color="#680000"/>
<stop offset="0.2555" stop-color="#5c0000"/>
<stop offset="0.4368" stop-color="#5c0000"/>
<stop offset="0.4446" stop-color="#a00000"/>
<stop offset="0.4537" stop-color="#d00000"/>
<stop offset="0.4707" stop-color="#ff3000"/>
<stop offset="0.4883" stop-color="#ff8000"/>
<stop offset="0.5052" stop-color="#ffb000"/>
<stop offset="0.5228" stop-color="#ffd000"/>
<stop offset="0.5450" stop-color="#ffd800"/>
<stop offset="0.5652" stop-color="#ffb000"/>
<stop offset="0.5795" stop-color="#ff8000"/>
<stop offset="0.5978" stop-color="#ff3000"/>
<stop offset="0.6141" stop-color="#f00000"/>
<stop offset="0.6323" stop-color="#c00000"/>
<stop offset="0.6493" stop-color="#900000"/>
<stop offset="0.6728" stop-color="#700000"/>
<stop offset="0.6858" stop-color="#5c0000"/>
</linearGradient>
</defs>
<rect x="488.90" y="9.80" width="22.40" height="153.40" fill="url(#h0)"/>
<rect x="511.00" y="9.80" width="11.30" height="153.40" fill="url(#h1)"/>
<rect x="522.00" y="9.80" width="11.30" height="153.40" fill="url(#h2)"/>
<rect x="533.00" y="9.80" width="11.30" height="153.40" fill="url(#h3)"/>
<rect x="544.00" y="9.80" width="11.30" height="153.40" fill="url(#h4)"/>
<rect x="555.00" y="9.80" width="9.50" height="153.40" fill="url(#h5)"/>
<rect x="564.20" y="9.80" width="6.60" height="153.40" fill="url(#h6)"/>
<rect x="570.50" y="9.80" width="6.80" height="153.40" fill="url(#h7)"/>
<rect x="577.00" y="9.80" width="11.30" height="153.40" fill="url(#h8)"/>
<rect x="588.00" y="9.80" width="11.30" height="153.40" fill="url(#h9)"/>
<rect x="599.00" y="9.80" width="11.30" height="153.40" fill="url(#h10)"/>
<rect x="610.00" y="9.80" width="11.30" height="153.40" fill="url(#h11)"/>
<rect x="621.00" y="9.80" width="11.30" height="153.40" fill="url(#h12)"/>
<rect x="632.00" y="9.80" width="10.90" height="153.40" fill="url(#h13)"/>
<clipPath id="cd"><rect x="488.60" y="9.60" width="154.30" height="153.70"/></clipPath>
<g clip-path="url(#cd)" fill="none">
<path d="M488.9,89H643" stroke="#000" stroke-width="2.0" stroke-dasharray="9.5 5.63" stroke-dashoffset="0"/>
<path d="M488.4,151.6L642.9,39.0" stroke="#000" stroke-width="1.9" stroke-dasharray="9.3 5.8" stroke-dashoffset="-0.8"/>
<path d="M488.4,85.3C490.3,85.1 496.2,84.7 500.0,84.3C503.8,83.9 507.3,83.5 511.0,83.0C514.7,82.5 518.3,82.0 522.0,81.4C525.7,80.8 529.5,80.2 533.2,79.5C536.9,78.8 540.6,78.1 544.1,77.2C547.6,76.3 550.9,75.1 554.5,73.9C558.1,72.7 561.8,71.3 565.5,70.0C569.2,68.7 572.9,67.5 576.6,66.0C580.3,64.5 583.9,63.0 587.6,61.0C591.3,59.0 595.3,56.6 599.0,54.3C602.7,52.0 606.3,49.4 610.0,47.2C613.7,45.0 617.3,43.2 621.0,41.0C624.7,38.8 628.4,36.3 632.0,34.0C635.6,31.7 641.1,28.4 642.9,27.3" stroke="#000" stroke-width="2.2"/>
<path d="M488.4,154.3C490.3,153.1 496.2,149.3 500.0,147.0C503.8,144.7 507.3,142.7 511.0,140.5C514.7,138.3 518.3,136.2 522.0,134.0C525.7,131.8 529.5,129.3 533.2,127.3C536.9,125.3 540.6,123.4 544.1,121.8C547.6,120.2 550.9,119.0 554.5,117.4C558.1,115.9 561.8,113.9 565.5,112.5C569.2,111.1 572.9,110.0 576.6,108.8C580.3,107.6 583.9,106.7 587.6,105.6C591.3,104.5 595.3,103.2 599.0,102.3C602.7,101.4 606.3,100.7 610.0,100.0C613.7,99.3 617.3,98.9 621.0,98.4C624.7,97.9 628.4,97.5 632.0,97.1C635.6,96.7 641.1,96.2 642.9,96.0" stroke="#000" stroke-width="2.2"/>
</g>
<circle cx="572.5" cy="37.7" r="2.8" fill="#fff"/>
<path d="M572.5,38V60.5" stroke="#fff" stroke-width="1.9" fill="none"/>
<rect x="568.05" y="60.5" width="9.2" height="48.1" fill="none" stroke="#fff" stroke-width="1.8"/>
<path d="M572.6,65V105" stroke="#fff" stroke-width="1.5" fill="none"/>
<path d="M572.6,63.3L574.3,67.4H570.9ZM572.6,106.9L574.4,102.2H570.8Z" fill="#fff"/>
<rect x="488.60" y="9.60" width="154.30" height="153.70" fill="none" stroke="#555" stroke-width="0.7"/>
<path d="M532.48,163.30v-2M576.56,163.30v-2M620.64,163.30v-2M488.60,147.20h2M488.60,113.40h2M488.60,79.60h2M488.60,45.80h2M488.60,12.00h2" fill="none" stroke="#2a2a2a" stroke-width="0.8"/>
<defs><linearGradient id="cbar" x1="0" x2="0" y1="0" y2="1">
<stop offset="0.00" stop-color="#5c0000"/>
<stop offset="0.38" stop-color="#5c0000"/>
<stop offset="0.45" stop-color="#800000"/>
<stop offset="0.51" stop-color="#c00000"/>
<stop offset="0.60" stop-color="#ff0000"/>
<stop offset="0.69" stop-color="#ff4000"/>
<stop offset="0.78" stop-color="#ff8000"/>
<stop offset="0.86" stop-color="#ffc000"/>
<stop offset="0.92" stop-color="#ffff00"/>
<stop offset="0.96" stop-color="#ffff80"/>
<stop offset="0.99" stop-color="#ffffff"/>
<stop offset="1.00" stop-color="#ffffff"/>
</linearGradient></defs>
<rect x="648.3" y="9.4" width="6.6" height="154" fill="url(#cbar)" stroke="#aaa" stroke-width="0.4"/>
<text x="482.50" y="150.70" font-size="10.60" text-anchor="end" fill="#111" stroke="#111" stroke-width="0.30" font-weight="bold" >0.6</text>
<text x="482.50" y="116.90" font-size="10.60" text-anchor="end" fill="#111" stroke="#111" stroke-width="0.30" font-weight="bold" >0.8</text>
<text x="482.50" y="83.10" font-size="10.60" text-anchor="end" fill="#111" stroke="#111" stroke-width="0.30" font-weight="bold" >1.0</text>
<text x="482.50" y="49.30" font-size="10.60" text-anchor="end" fill="#111" stroke="#111" stroke-width="0.30" font-weight="bold" >1.2</text>
<text x="482.50" y="15.50" font-size="10.60" text-anchor="end" fill="#111" stroke="#111" stroke-width="0.30" font-weight="bold" >1.4</text>
<text x="488.80" y="177.00" font-size="10.60" text-anchor="middle" fill="#111" stroke="#111" stroke-width="0.30" font-weight="bold" >0.6</text>
<text x="532.88" y="177.00" font-size="10.60" text-anchor="middle" fill="#111" stroke="#111" stroke-width="0.30" font-weight="bold" >0.8</text>
<text x="576.96" y="177.00" font-size="10.60" text-anchor="middle" fill="#111" stroke="#111" stroke-width="0.30" font-weight="bold" >1.0</text>
<text x="621.04" y="177.00" font-size="10.60" text-anchor="middle" fill="#111" stroke="#111" stroke-width="0.30" font-weight="bold" >1.2</text>
<text transform="translate(456.10,86.00) rotate(-90)" font-size="10.50" text-anchor="middle" fill="#111" stroke="#111" stroke-width="0.30" font-weight="bold">Frequency (THz)</text>
<text transform="translate(675.30,86.00) rotate(90)" font-size="10.50" text-anchor="middle" fill="#111" stroke="#111" stroke-width="0.30" font-weight="bold">Transmission (a.u.)</text>
<text x="659.60" y="13.50" font-size="10.60" text-anchor="start" fill="#111" stroke="#111" stroke-width="0.30" font-weight="bold" >1</text>
<text x="659.80" y="166.50" font-size="10.60" text-anchor="start" fill="#111" stroke="#111" stroke-width="0.30" font-weight="bold" >0</text>
<text x="566" y="194.3" font-size="10.50" text-anchor="middle" fill="#111" stroke="#111" stroke-width="0.3" font-weight="bold"><tspan font-style="italic">f</tspan><tspan font-size="7.4" dy="2.2">BIC</tspan><tspan dy="-2.2" font-style="italic"> / </tspan><tspan font-style="italic">f</tspan><tspan font-size="7.4" dy="2.2">Ph</tspan></text>
<text x="534.40" y="28.60" font-size="8.85" text-anchor="start" fill="#fff" stroke="#fff" stroke-width="0.30" font-weight="bold" ><tspan font-style="italic">Δω</tspan> = 0.28 THz</text>
<text x="495.60" y="110.00" font-size="9.00" text-anchor="start" fill="#fff" stroke="#fff" stroke-width="0.30" font-weight="bold" >Phonon</text>
<text x="622.30" y="65.30" font-size="9.00" text-anchor="start" fill="#fff" stroke="#fff" stroke-width="0.30" font-weight="bold" >BIC</text>
<text x="447.30" y="10.90" font-size="16.00" text-anchor="start" fill="#000" stroke="#000" stroke-width="0.30" font-weight="bold" >d</text>
</g>
<g>
<path d="M506.59,357.70v-4.00M536.97,357.70v-4.00M567.35,357.70v-4.00M597.73,357.70v-4.00M628.11,357.70v-4.00M521.78,357.70v-2.30M552.16,357.70v-2.30M582.54,357.70v-2.30M612.92,357.70v-2.30M491.20,337.20h4.00M491.20,310.90h4.00M491.20,284.60h4.00M491.20,258.30h4.00M491.20,232.00h4.00M491.20,350.35h2.30M491.20,324.05h2.30M491.20,297.75h2.30M491.20,271.45h2.30M491.20,245.15h2.30" fill="none" stroke="#1a1a1a" stroke-width="1.45"/>
<clipPath id="ce"><rect x="491.20" y="229.30" width="151.80" height="128.40"/></clipPath>
<g clip-path="url(#ce)" fill="none" stroke-linejoin="round">
<path d="M491.2,260.6C492.1,261.5 495.0,264.3 496.7,266.1C498.4,267.9 499.8,269.4 501.3,271.4C502.8,273.4 504.5,276.0 505.9,278.3C507.3,280.6 508.4,282.6 509.7,285.2C511.0,287.8 512.3,290.8 513.6,293.6C514.9,296.4 516.2,299.4 517.4,302.1C518.5,304.8 519.5,307.1 520.5,309.7C521.5,312.3 522.3,315.1 523.3,318.0C524.3,320.9 525.4,324.1 526.6,327.0C527.8,329.9 529.1,332.8 530.6,335.4C532.1,338.0 533.8,340.9 535.4,342.6C537.0,344.3 538.6,345.3 540.2,345.5C541.8,345.7 543.2,345.3 545.0,343.8C546.8,342.3 549.0,339.2 551.0,336.6C553.0,334.0 555.1,330.6 557.1,328.2C559.1,325.8 561.5,323.4 563.1,322.2C564.7,321.0 565.3,320.8 566.7,320.9C568.1,321.0 569.7,321.3 571.5,322.9C573.3,324.5 575.7,328.2 577.5,330.6C579.3,333.0 580.9,335.6 582.4,337.1C583.9,338.6 585.4,339.6 586.7,339.5C588.1,339.4 589.4,338.1 590.5,336.8C591.6,335.5 592.6,333.4 593.5,331.5C594.4,329.6 595.0,328.0 596.0,325.2C597.0,322.4 598.2,318.1 599.3,314.5C600.4,310.9 601.6,307.1 602.6,303.8C603.6,300.6 604.2,298.6 605.3,295.0C606.4,291.4 607.8,286.4 609.1,282.5C610.4,278.6 611.6,275.0 613.0,271.8C614.4,268.6 616.1,265.6 617.5,263.3C618.9,261.0 620.0,259.5 621.3,258.0C622.6,256.5 623.8,255.4 625.4,254.1C627.0,252.8 628.9,251.5 630.8,250.4C632.7,249.3 634.6,248.3 636.7,247.6C638.8,246.9 642.2,246.3 643.3,246.0" stroke="#ff0a0a" stroke-width="2.0"/>
</g>
<path d="M541.6,350.2L547.2,347.5V348.8H581.9V347.5L587.5,350.2L581.9,352.9V351.6H547.2V352.9Z" fill="#ff1010"/>
<rect x="491.20" y="229.30" width="151.80" height="128.40" fill="none" stroke="#1a1a1a" stroke-width="1.45"/>
<text x="506.59" y="372.00" font-size="10.60" text-anchor="middle" fill="#111" stroke="#111" stroke-width="0.30" font-weight="bold" >0.6</text>
<text x="536.97" y="372.00" font-size="10.60" text-anchor="middle" fill="#111" stroke="#111" stroke-width="0.30" font-weight="bold" >0.8</text>
<text x="567.35" y="372.00" font-size="10.60" text-anchor="middle" fill="#111" stroke="#111" stroke-width="0.30" font-weight="bold" >1.0</text>
<text x="597.73" y="372.00" font-size="10.60" text-anchor="middle" fill="#111" stroke="#111" stroke-width="0.30" font-weight="bold" >1.2</text>
<text x="628.11" y="372.00" font-size="10.60" text-anchor="middle" fill="#111" stroke="#111" stroke-width="0.30" font-weight="bold" >1.4</text>
<text x="485.30" y="341.00" font-size="10.60" text-anchor="end" fill="#111" stroke="#111" stroke-width="0.30" font-weight="bold" >0.6</text>
<text x="485.30" y="314.70" font-size="10.60" text-anchor="end" fill="#111" stroke="#111" stroke-width="0.30" font-weight="bold" >0.7</text>
<text x="485.30" y="288.40" font-size="10.60" text-anchor="end" fill="#111" stroke="#111" stroke-width="0.30" font-weight="bold" >0.8</text>
<text x="485.30" y="262.10" font-size="10.60" text-anchor="end" fill="#111" stroke="#111" stroke-width="0.30" font-weight="bold" >0.9</text>
<text x="485.30" y="235.80" font-size="10.60" text-anchor="end" fill="#111" stroke="#111" stroke-width="0.30" font-weight="bold" >1.0</text>
<text x="567.00" y="388.70" font-size="10.50" text-anchor="middle" fill="#111" stroke="#111" stroke-width="0.30" font-weight="bold" >Frequency (THz)</text>
<text transform="translate(456.70,294.50) rotate(-90)" font-size="10.50" text-anchor="middle" fill="#111" stroke="#111" stroke-width="0.30" font-weight="bold">Transmission (a.u.)</text>
<path d="M496.80,240.40H512.00" stroke="#ff0a0a" stroke-width="2.00" fill="none" />
<text x="517.30" y="243.40" font-size="9.00" text-anchor="start" fill="#111" stroke="#111" stroke-width="0.30" font-weight="bold" >Polariton</text>
<text x="593.20" y="352.90" font-size="9.00" text-anchor="start" fill="#111" stroke="#111" stroke-width="0.30" font-weight="bold" >Rabi</text>
<text x="447.20" y="226.90" font-size="16.00" text-anchor="start" fill="#000" stroke="#000" stroke-width="0.30" font-weight="bold" >e</text>
</g>
</svg></body></html>
